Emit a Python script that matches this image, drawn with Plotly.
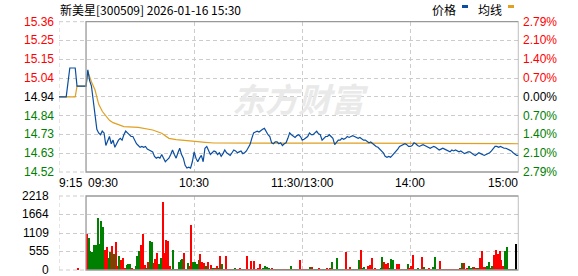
import plotly.graph_objects as go

# ---------------- data ----------------
title_text = "新美星[300509] 2026-01-16 15:30"
prev_close = 14.94
max_pct = 0.0279
price_tick_labels = ["15.36", "15.25", "15.15", "15.04", "14.94", "14.84", "14.73", "14.63", "14.52"]
pct_tick_labels = ["2.79%", "2.10%", "1.40%", "0.70%", "0.00%", "0.70%", "1.40%", "2.10%", "2.79%"]
vol_tick_vals = [0, 555, 1109, 1664, 2218]
vol_tick_labels = ["0", "555", "1109", "1664", "2218"]
x_tick_labels = ["9:15", "09:30", "10:30", "11:30/13:00", "14:00", "15:00"]
x_tick_minutes = [-15, 0, 60, 120, 180, 240]

# pre-market (9:15 - 9:29), minutes relative to 9:30
pre_minutes = [-15, -14, -13, -12, -11, -10, -9, -8, -7, -6, -5, -4, -3, -2, -1]
pre_price = [14.94, 14.94, 14.94, 14.94, 14.94, 15.02, 15.10, 15.10, 15.10, 15.10,
             15.00, 15.00, 15.00, 15.00, 15.00]
pre_avg = [14.94, 14.94, 14.94, 14.94, 14.94, 14.94, 14.94, 14.94, 14.94, 14.94,
           15.00, 15.00, 15.00, 15.00, 15.00]
auction_minute = -5
auction_vol = 40

# trading minutes 0..240 (09:30 .. 15:00, lunch break removed)
price = [
    15.00, 15.09, 15.03, 15.00, 14.92, 14.84, 14.76, 14.74, 14.73, 14.75,
    14.74, 14.67, 14.70, 14.72, 14.68, 14.70, 14.66, 14.68, 14.70, 14.71,
    14.70, 14.73, 14.75, 14.74, 14.73, 14.72, 14.72, 14.70, 14.68, 14.67,
    14.66, 14.665, 14.66, 14.665, 14.65, 14.645, 14.64, 14.635, 14.61, 14.60,
    14.605, 14.60, 14.62, 14.60, 14.58, 14.59, 14.60, 14.62, 14.645, 14.62,
    14.60, 14.63, 14.655, 14.62, 14.60, 14.56, 14.545, 14.55, 14.545, 14.58,
    14.635, 14.60, 14.58, 14.60, 14.615, 14.58, 14.655, 14.665, 14.64, 14.62,
    14.63, 14.64, 14.635, 14.62, 14.63, 14.61, 14.625, 14.645, 14.63, 14.62,
    14.615, 14.63, 14.645, 14.64, 14.63, 14.635, 14.64, 14.625, 14.63, 14.64,
    14.655, 14.675, 14.71, 14.74, 14.745, 14.75, 14.745, 14.755, 14.76, 14.765,
    14.745, 14.73, 14.72, 14.685, 14.68, 14.69, 14.69, 14.68, 14.685, 14.67,
    14.68, 14.685, 14.71, 14.74, 14.73, 14.72, 14.715, 14.725, 14.73, 14.72,
    14.70, 14.705, 14.715, 14.72, 14.74, 14.73, 14.73, 14.74, 14.75, 14.735,
    14.73, 14.70, 14.71, 14.72, 14.72, 14.73, 14.72, 14.71, 14.675, 14.69,
    14.70, 14.70, 14.71, 14.705, 14.71, 14.72, 14.715, 14.72, 14.725, 14.72,
    14.715, 14.71, 14.715, 14.705, 14.70, 14.70, 14.69, 14.685, 14.69, 14.68,
    14.67, 14.665, 14.66, 14.65, 14.645, 14.63, 14.61, 14.605, 14.61, 14.605,
    14.615, 14.625, 14.635, 14.65, 14.665, 14.67, 14.675, 14.68, 14.675, 14.665,
    14.665, 14.67, 14.685, 14.68, 14.67, 14.665, 14.67, 14.675, 14.67, 14.665,
    14.66, 14.655, 14.66, 14.665, 14.66, 14.65, 14.645, 14.65, 14.655, 14.65,
    14.645, 14.64, 14.635, 14.645, 14.64, 14.645, 14.64, 14.635, 14.64, 14.63,
    14.625, 14.63, 14.635, 14.635, 14.625, 14.62, 14.615, 14.625, 14.63, 14.625,
    14.62, 14.615, 14.62, 14.625, 14.63, 14.64, 14.655, 14.665, 14.665, 14.66,
    14.665, 14.66, 14.655, 14.655, 14.65, 14.645, 14.64, 14.63, 14.62, 14.615,
    14.615,
]

avg_minutes = [0, 1, 2, 3, 5, 7, 9, 11, 13, 15, 18, 21, 29, 37, 42, 44, 46,
               50, 54, 62, 66, 71, 148, 221, 240]
avg_values = [15.00, 15.08, 15.05, 15.024, 14.978, 14.90, 14.86, 14.835, 14.81,
              14.797, 14.784, 14.775, 14.771, 14.756, 14.738, 14.725, 14.71,
              14.703, 14.698, 14.692, 14.688, 14.684, 14.683, 14.68, 14.68]

# per-minute volume (240 bars) and direction (1 = up/red, 0 = down/green)
volume = [
    1090, 960, 570, 540, 750, 750, 1560, 780, 1470, 1290, 600, 680, 350, 540, 720, 480, 840,
    120, 420, 300, 360, 60, 150, 180, 180, 60, 30, 120, 420, 570, 750, 1080, 150, 60,
    250, 870, 840, 210, 330, 510, 180, 360, 2040, 510, 900, 870, 120, 30, 600, 30, 30, 240,
    300, 330, 510, 30, 210, 120, 1350, 240, 240, 180, 300, 480, 240, 210, 120, 240, 30, 150,
    60, 60, 120, 60, 420, 180, 30, 420, 30, 30, 30, 30, 60, 30, 30, 60, 30, 30, 30, 420,
    30, 270, 30, 270, 30, 60, 180, 30, 60, 120, 90, 60, 30, 60, 30, 30, 30, 30, 30, 30,
    30, 30, 30, 120, 30, 30, 30, 30, 300, 30, 30, 30, 30, 30, 90, 90, 30, 30, 30, 60,
    30, 30, 30, 60, 30, 60, 240, 30, 30, 360, 30, 30, 30, 30, 540,
    30, 90, 30, 30, 30, 30, 300, 600, 60, 90, 30, 120, 150, 360, 30, 60, 30, 30, 60, 390,
    240, 180, 210, 60, 330, 300, 30, 180, 180, 30, 30, 30, 30, 180, 60, 120, 450, 30, 30,
    60, 30, 390, 90, 30, 30, 60, 30, 90, 390, 30, 30, 270, 30, 30, 30, 30, 30, 30, 30, 30,
    30, 30, 60, 210, 210, 30, 60, 120, 60, 90, 90, 60, 60, 360, 570, 90, 90, 120, 240, 60,
    120, 450, 600, 480, 570, 300, 120, 570, 690, 30, 30, 30, 30, 780,
]
vol_up = [
    1, 0, 0, 0, 0, 0, 0, 0, 0, 0, 1, 1, 0, 0, 1, 0, 1,
    1, 0, 1, 1, 1, 0, 0, 0, 1, 1, 0, 0, 0, 1, 1, 1, 0,
    1, 0, 0, 1, 1, 1, 0, 0, 1, 1, 1, 1, 1, 0, 0, 0, 1, 0,
    0, 0, 1, 0, 0, 1, 1, 0, 0, 0, 0, 1, 1, 1, 0, 1, 0, 1,
    0, 1, 1, 0, 1, 0, 1, 1, 1, 1, 1, 0, 0, 1, 1, 1, 0, 0, 1, 1,
    1, 1, 0, 1, 1, 1, 1, 1, 0, 0, 0, 0, 0, 1, 0, 1, 0, 1, 0, 1,
    1, 0, 1, 0, 1, 0, 1, 0, 1, 1, 1, 1, 1, 0, 0, 1, 0, 0, 0, 1,
    1, 0, 0, 1, 1, 1, 0, 1, 0, 0, 0, 0, 0, 1, 1,
    1, 1, 0, 0, 0, 1, 0, 1, 0, 0, 1, 1, 1, 1, 0, 1, 1, 0, 0, 0,
    1, 1, 1, 0, 0, 0, 1, 1, 1, 0, 1, 1, 1, 0, 1, 1, 1, 0, 1,
    0, 1, 1, 0, 1, 1, 1, 1, 0, 0, 0, 1, 1, 0, 0, 1, 1, 1, 1, 1,
    1, 1, 0, 1, 0, 1, 1, 1, 0, 0, 0, 1, 1, 0, 1, 1, 1, 1, 0, 0,
    1, 0, 1, 1, 1, 1, 1, 1, 0, 0, 0, 1, 0, 0,
]

# ---------------- styles / layout helpers ----------------
W, H = 578, 276
def px(x):
    return x / W
def py(y):
    return 1 - y / H

RED = "#ff0000"
GREEN = "#008000"
BLUE = "#0a4ea0"
ORANGE = "#e0a020"
GRID = "#cccccc"
FRAME = "#999999"
DASH = "4px,3px"
FONT = "Liberation Sans, Arial, Noto Sans CJK SC"
CJK = "Noto Sans CJK SC, Liberation Sans"

x_left_px, x_right_px = 59, 518.5
price_top_px, price_bot_px = 21.7, 172.0
vol_top_px, vol_bot_px = 196.0, 270.0

y_hi = prev_close * (1 + max_pct)
y_lo = prev_close * (1 - max_pct)
n_ticks = len(price_tick_labels)
price_tick_vals = [y_hi - i * (y_hi - y_lo) / (n_ticks - 1) for i in range(n_ticks)]

trade_minutes = list(range(len(price)))

fig = go.Figure()

# volume bars
bar_x = [m + 0.5 for m in range(len(volume))]
bar_colors = [RED if u else GREEN for u in vol_up]
fig.add_trace(go.Bar(x=bar_x, y=volume, width=0.6, marker=dict(color=bar_colors, line=dict(width=0)),
                     xaxis="x2", yaxis="y2", showlegend=False))
fig.add_trace(go.Bar(x=[auction_minute + 0.5], y=[auction_vol], width=0.6,
                     marker=dict(color=RED, line=dict(width=0)),
                     xaxis="x2", yaxis="y2", showlegend=False))

# average line and price line
fig.add_trace(go.Scatter(x=pre_minutes + avg_minutes, y=pre_avg + avg_values, mode="lines",
                         line=dict(color=ORANGE, width=1.2), xaxis="x", yaxis="y", showlegend=False))
fig.add_trace(go.Scatter(x=pre_minutes + trade_minutes, y=pre_price + price, mode="lines",
                         line=dict(color=BLUE, width=1.2), xaxis="x", yaxis="y", showlegend=False))

xdom = [px(x_left_px), px(x_right_px)]
axis_common = dict(showline=False, zeroline=False, ticks="", showticklabels=False,
                   gridcolor=GRID, griddash=DASH, gridwidth=1, fixedrange=True)

fig.update_layout(
    width=W, height=H, autosize=False,
    margin=dict(l=0, r=0, t=0, b=0),
    paper_bgcolor="white", plot_bgcolor="white",
    showlegend=False, bargap=0,
    xaxis=dict(domain=xdom, range=[-15, 240], anchor="y", tickvals=[60, 120, 180],
               showgrid=True, **axis_common),
    yaxis=dict(domain=[py(price_bot_px), py(price_top_px)], range=[y_lo, y_hi], anchor="x",
               tickvals=price_tick_vals[1:-1], showgrid=True, **axis_common),
    xaxis2=dict(domain=xdom, range=[-15, 240], anchor="y2", tickvals=[60, 120, 180],
                showgrid=True, **axis_common),
    yaxis2=dict(domain=[py(vol_bot_px), py(vol_top_px)], range=[0, vol_tick_vals[-1]],
                anchor="x2", tickvals=vol_tick_vals[1:-1], showgrid=True, **axis_common),
)

shapes = []
for xr, yr in (("x", "y domain"), ("x2", "y2 domain")):
    # dashed pre-market edges
    shapes.append(dict(type="line", xref=xr, yref=yr, x0=-15, x1=-15, y0=0, y1=1,
                       line=dict(color=GRID, width=1, dash=DASH), layer="below"))
    shapes.append(dict(type="line", xref=xr, yref=yr, x0=-15, x1=0, y0=1, y1=1,
                       line=dict(color=GRID, width=1, dash=DASH), layer="below"))
    shapes.append(dict(type="line", xref=xr, yref=yr, x0=-15, x1=0, y0=0, y1=0,
                       line=dict(color=GRID, width=1, dash=DASH), layer="below"))
    # solid frame of trading session
    shapes.append(dict(type="rect", xref=xr, yref=yr, x0=0, x1=240, y0=0, y1=1,
                       line=dict(color=FRAME, width=1.3), fillcolor="rgba(0,0,0,0)"))

# legend markers
shapes.append(dict(type="rect", xref="paper", yref="paper", x0=px(462), x1=px(468),
                   y0=py(8), y1=py(5), fillcolor=BLUE, line=dict(width=0)))
shapes.append(dict(type="rect", xref="paper", yref="paper", x0=px(508), x1=px(514),
                   y0=py(8), y1=py(5), fillcolor=ORANGE, line=dict(width=0)))
fig.update_layout(shapes=shapes)

ann = []
# watermark
ann.append(dict(text="<b><i>东方财富</i></b>", x=px(300), y=py(98), xref="paper", yref="paper",
                showarrow=False, font=dict(family=CJK, size=33, color="#e9e9e9"),
                xanchor="center", yanchor="middle"))
# title and legend
ann.append(dict(text=title_text, x=px(58), y=py(9.5), xref="paper", yref="paper", showarrow=False,
                xanchor="left", yanchor="middle", font=dict(family=CJK, size=12, color="#000")))
ann.append(dict(text="价格", x=px(458), y=py(9.5), xref="paper", yref="paper", showarrow=False,
                xanchor="right", yanchor="middle", font=dict(family=CJK, size=12, color="#000")))
ann.append(dict(text="均线", x=px(504), y=py(9.5), xref="paper", yref="paper", showarrow=False,
                xanchor="right", yanchor="middle", font=dict(family=CJK, size=12, color="#000")))

mid = n_ticks // 2
for i, (v, lab, plab) in enumerate(zip(price_tick_vals, price_tick_labels, pct_tick_labels)):
    col = RED if i < mid else ("#000000" if i == mid else GREEN)
    ann.append(dict(text=lab, x=px(55.5), y=v, xref="paper", yref="y", showarrow=False,
                    xanchor="right", yanchor="middle", font=dict(family=FONT, size=12, color=col)))
    ann.append(dict(text=plab, x=px(520.5), y=v, xref="paper", yref="y", showarrow=False,
                    xanchor="left", yanchor="middle", font=dict(family=FONT, size=12, color=col)))

for v, lab in zip(vol_tick_vals, vol_tick_labels):
    ann.append(dict(text=lab, x=px(51), y=v, xref="paper", yref="y2", showarrow=False,
                    xanchor="right", yanchor="middle", font=dict(family=FONT, size=12, color="#000")))

x_anchors = ["left", "left", "center", "center", "center", "right"]
x_shifts = [-2, 0, 0, 0, 0, 1]
for m, lab, xa, xs in zip(x_tick_minutes, x_tick_labels, x_anchors, x_shifts):
    ann.append(dict(text=lab, x=m, y=py(182.5), xref="x", yref="paper", showarrow=False,
                    xanchor=xa, yanchor="middle", xshift=xs,
                    font=dict(family=FONT, size=12, color="#000")))

fig.update_layout(annotations=ann)

fig.write_html("out.html")
